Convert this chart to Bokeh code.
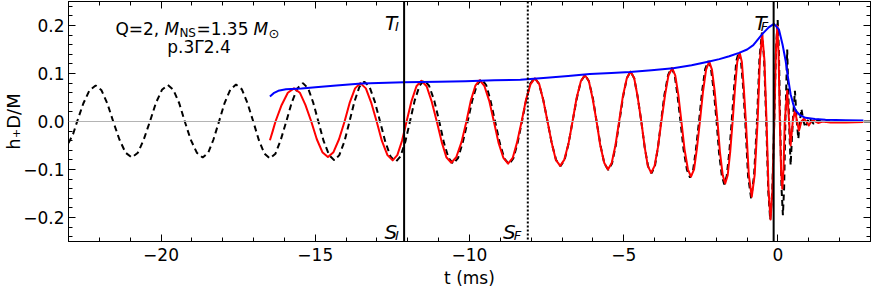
from bokeh.plotting import figure
from bokeh.models import Span, Label, LinearAxis, FixedTicker
from bokeh.embed import file_html
from bokeh.resources import INLINE

# ---------------- data ----------------
# black dashed waveform (t in ms, h+ D/M)
dashed_pts = [
    (-23.00, -0.045), (-22.85, -0.026), (-22.72, 0.0),
    (-22.52, 0.0375), (-22.32, 0.065), (-22.12, 0.075),
    (-21.93, 0.065), (-21.74, 0.0375), (-21.55, 0.0),
    (-21.35, -0.0375), (-21.15, -0.065), (-20.95, -0.075),
    (-20.75, -0.065), (-20.56, -0.0375), (-20.36, 0.0),
    (-20.17, 0.038), (-19.97, 0.066), (-19.78, 0.076),
    (-19.60, 0.066), (-19.41, 0.038), (-19.23, 0.0),
    (-19.04, -0.0375), (-18.84, -0.065), (-18.65, -0.075),
    (-18.47, -0.065), (-18.30, -0.0375), (-18.12, 0.0),
    (-17.94, 0.0385), (-17.75, 0.067), (-17.57, 0.077),
    (-17.38, 0.067), (-17.20, 0.0385), (-17.01, 0.0),
    (-16.83, -0.0385), (-16.65, -0.067), (-16.47, -0.077),
    (-16.29, -0.067), (-16.12, -0.0385), (-15.94, 0.0),
    (-15.76, 0.040), (-15.58, 0.069), (-15.40, 0.080),
    (-15.23, 0.069), (-15.07, 0.040), (-14.90, 0.0),
    (-14.73, -0.0405), (-14.55, -0.070), (-14.38, -0.081),
    (-14.22, -0.070), (-14.05, -0.0405), (-13.89, 0.0),
    (-13.73, 0.0415), (-13.57, 0.072), (-13.41, 0.083),
    (-13.24, 0.072), (-13.07, 0.0415), (-12.90, 0.0),
    (-12.73, -0.042), (-12.56, -0.073), (-12.39, -0.084),
    (-12.24, -0.073), (-12.08, -0.042), (-11.93, 0.0),
    (-11.78, 0.043), (-11.62, 0.0745), (-11.47, 0.086),
    (-11.31, 0.0745), (-11.14, 0.043), (-10.98, 0.0),
    (-10.83, -0.044), (-10.68, -0.076), (-10.53, -0.088),
    (-10.37, -0.076), (-10.22, -0.044), (-10.06, 0.0),
    (-9.91, 0.044), (-9.76, 0.076), (-9.61, 0.088),
    (-9.46, 0.076), (-9.32, 0.044), (-9.17, 0.0),
    (-9.02, -0.0445), (-8.87, -0.077), (-8.72, -0.089),
    (-8.58, -0.077), (-8.44, -0.0445), (-8.30, 0.0),
    (-8.16, 0.0455), (-8.03, 0.079), (-7.89, 0.091),
    (-7.75, 0.079), (-7.61, 0.0455), (-7.47, 0.0),
    (-7.33, -0.0465), (-7.19, -0.0805), (-7.05, -0.093),
    (-6.92, -0.0805), (-6.79, -0.0465), (-6.66, 0.0),
    (-6.52, 0.0485), (-6.39, 0.084), (-6.25, 0.097),
    (-6.13, 0.084), (-6.00, 0.0485), (-5.88, 0.0),
    (-5.75, -0.0505), (-5.63, -0.0875), (-5.50, -0.101),
    (-5.38, -0.0875), (-5.26, -0.0505), (-5.14, 0.0),
    (-5.02, 0.052), (-4.90, 0.090), (-4.78, 0.104),
    (-4.66, 0.090), (-4.55, 0.052), (-4.43, 0.0),
    (-4.32, -0.054), (-4.21, -0.0935), (-4.10, -0.108),
    (-3.99, -0.0935), (-3.89, -0.054), (-3.79, 0.0),
    (-3.68, 0.056), (-3.56, 0.097), (-3.45, 0.112),
    (-3.35, 0.097), (-3.26, 0.056), (-3.16, 0.0),
    (-3.06, -0.0585), (-2.95, -0.101), (-2.85, -0.117),
    (-2.75, -0.101), (-2.66, -0.0585), (-2.56, 0.0),
    (-2.46, 0.063), (-2.36, 0.109), (-2.26, 0.126),
    (-2.17, 0.109), (-2.08, 0.063), (-1.99, 0.0),
    (-1.91, -0.0655), (-1.82, -0.113), (-1.74, -0.131),
    (-1.66, -0.113), (-1.58, -0.0655), (-1.50, 0.0),
    (-1.42, 0.0725), (-1.35, 0.126), (-1.27, 0.145),
    (-1.20, 0.126), (-1.13, 0.0725), (-1.06, 0.0),
    (-0.97, -0.113), (-0.87, -0.160),
    (-0.775, -0.113), (-0.68, 0.0),
    (-0.60, 0.131), (-0.52, 0.185),
    (-0.45, 0.131), (-0.38, 0.0),
    (-0.315, -0.145), (-0.25, -0.205),
    (-0.185, -0.145), (-0.12, 0.0),
    (-0.065, 0.150), (-0.01, 0.212),
    (0.03, 0.150), (0.07, 0.0),
    (0.115, -0.138), (0.16, -0.195),
    (0.20, -0.138), (0.24, 0.0),
    (0.30, 0.150), (0.36, 0.0), (0.41, -0.091), (0.48, 0.0),
    (0.55, 0.064), (0.61, 0.0), (0.66, -0.036), (0.71, 0.0),
    (0.76, 0.026), (0.83, 0.0), (0.89, -0.012), (0.96, 0.0),
    (1.02, 0.008), (1.09, 0.0), (1.16, -0.005), (1.23, 0.0),
    (1.30, 0.004), (1.45, -0.003), (1.60, 0.002), (1.80, -0.001),
    (2.10, 0.001), (2.50, 0.0), (3.00, 0.0),
]

# red waveform
red_pts = [
    (-16.47, -0.039), (-16.38, -0.020), (-16.29, 0.0),
    (-16.09, 0.0345), (-15.89, 0.060), (-15.69, 0.069),
    (-15.50, 0.060), (-15.32, 0.0345), (-15.13, 0.0),
    (-14.95, -0.037), (-14.77, -0.064), (-14.59, -0.074),
    (-14.41, -0.064), (-14.23, -0.037), (-14.05, 0.0),
    (-13.88, 0.040), (-13.71, 0.069), (-13.54, 0.080),
    (-13.36, 0.069), (-13.19, 0.040), (-13.01, 0.0),
    (-12.84, -0.0405), (-12.66, -0.070), (-12.49, -0.081),
    (-12.34, -0.070), (-12.19, -0.0405), (-12.04, 0.0),
    (-11.88, 0.0425), (-11.72, 0.0735), (-11.56, 0.085),
    (-11.39, 0.0735), (-11.23, 0.0425), (-11.06, 0.0),
    (-10.90, -0.043), (-10.75, -0.0745), (-10.59, -0.086),
    (-10.43, -0.0745), (-10.26, -0.043), (-10.10, 0.0),
    (-9.96, 0.043), (-9.81, 0.0745), (-9.67, 0.086),
    (-9.52, 0.0745), (-9.36, 0.043), (-9.21, 0.0),
    (-9.06, -0.044), (-8.90, -0.076), (-8.75, -0.088),
    (-8.60, -0.076), (-8.46, -0.044), (-8.31, 0.0),
    (-8.17, 0.045), (-8.02, 0.078), (-7.88, 0.090),
    (-7.74, 0.078), (-7.61, 0.045), (-7.47, 0.0),
    (-7.33, -0.046), (-7.20, -0.080), (-7.06, -0.0925),
    (-6.93, -0.080), (-6.79, -0.046), (-6.66, 0.0),
    (-6.53, 0.0485), (-6.39, 0.084), (-6.26, 0.097),
    (-6.13, 0.084), (-6.01, 0.0485), (-5.88, 0.0),
    (-5.76, -0.050), (-5.63, -0.0865), (-5.51, -0.100),
    (-5.39, -0.0865), (-5.27, -0.050), (-5.15, 0.0),
    (-5.03, 0.052), (-4.90, 0.090), (-4.78, 0.104),
    (-4.66, 0.090), (-4.55, 0.052), (-4.43, 0.0),
    (-4.32, -0.0535), (-4.22, -0.0925), (-4.11, -0.107),
    (-4.00, -0.0925), (-3.89, -0.0535), (-3.78, 0.0),
    (-3.66, 0.0555), (-3.55, 0.096), (-3.43, 0.111),
    (-3.33, 0.096), (-3.23, 0.0555), (-3.13, 0.0),
    (-3.03, -0.0575), (-2.92, -0.0995), (-2.82, -0.115),
    (-2.72, -0.0995), (-2.63, -0.0575), (-2.53, 0.0),
    (-2.43, 0.0625), (-2.33, 0.108), (-2.23, 0.125),
    (-2.14, 0.108), (-2.05, 0.0625), (-1.96, 0.0),
    (-1.88, -0.0645), (-1.79, -0.112), (-1.71, -0.129),
    (-1.63, -0.112), (-1.55, -0.0645), (-1.47, 0.0),
    (-1.39, 0.0715), (-1.32, 0.124), (-1.24, 0.143),
    (-1.17, 0.124), (-1.11, 0.0715), (-1.04, 0.0),
    (-0.945, -0.111), (-0.85, -0.157),
    (-0.755, -0.111), (-0.66, 0.0),
    (-0.585, 0.129), (-0.51, 0.182),
    (-0.44, 0.129), (-0.37, 0.0),
    (-0.305, -0.144), (-0.24, -0.204),
    (-0.18, -0.144), (-0.12, 0.0),
    (-0.07, 0.141), (-0.02, 0.199),
    (0.02, 0.141), (0.06, 0.0),
    (0.10, -0.100), (0.14, -0.140), (0.18, -0.100), (0.22, 0.0),
    (0.30, 0.064), (0.36, 0.0), (0.41, -0.050), (0.48, 0.0),
    (0.55, 0.023), (0.62, 0.0), (0.68, -0.019), (0.76, 0.0),
    (0.84, 0.006), (0.92, 0.0), (1.00, -0.008), (1.08, 0.0),
    (1.15, 0.002), (1.30, -0.003), (1.45, 0.0), (1.70, -0.002),
    (2.20, -0.002), (2.77, -0.001),
]

# blue amplitude curve
blue_pts = [
    (-16.47, 0.052), (-16.35, 0.059), (-16.20, 0.064), (-15.95, 0.067),
    (-15.45, 0.069), (-14.90, 0.072), (-14.32, 0.075), (-13.50, 0.079),
    (-12.12, 0.082), (-11.00, 0.083), (-10.13, 0.084), (-9.20, 0.086),
    (-8.35, 0.087), (-7.50, 0.091), (-6.80, 0.095), (-6.10, 0.099),
    (-5.40, 0.101), (-4.80, 0.103), (-4.10, 0.107), (-3.40, 0.111),
    (-2.80, 0.117), (-2.23, 0.125), (-1.90, 0.130), (-1.58, 0.136),
    (-1.26, 0.143), (-1.00, 0.150), (-0.80, 0.159), (-0.51, 0.182),
    (-0.30, 0.196), (-0.13, 0.2035), (0.03, 0.192), (0.15, 0.160),
    (0.25, 0.126), (0.33, 0.090), (0.41, 0.057), (0.50, 0.035),
    (0.57, 0.023), (0.70, 0.014), (0.89, 0.0077), (1.20, 0.005),
    (1.54, 0.0035), (2.20, 0.0025), (2.77, 0.002),
]

dashed_t = [q[0] for q in dashed_pts]
dashed_h = [q[1] for q in dashed_pts]
red_t = [q[0] for q in red_pts]
red_h = [q[1] for q in red_pts]
blue_t = [q[0] for q in blue_pts]
blue_h = [q[1] for q in blue_pts]

# vertical markers (ms)
t_I = -12.12
s_F = -8.11
t_F = -0.14

x_major = [-20, -15, -10, -5, 0]
x_labels = {-20: "\u221220", -15: "\u221215", -10: "\u221210", -5: "\u22125", 0: "0"}
y_major = [-0.2, -0.1, 0.0, 0.1, 0.2]
y_labels = {-0.2: "\u22120.2", -0.1: "\u22120.1", 0.0: "0.0", 0.1: "0.1", 0.2: "0.2"}

FONT = "DejaVu Sans"

# ---------------- figure ----------------
p = figure(width=871, height=291, x_range=(-23, 3), y_range=(-0.25, 0.25),
           output_backend="svg", toolbar_location=None,
           min_border_left=68, min_border_right=1, min_border_top=1, min_border_bottom=50)
p.grid.visible = False
p.outline_line_color = "black"
p.outline_line_width = 1
p.background_fill_color = "white"
p.border_fill_color = "white"

xt = FixedTicker(ticks=x_major, minor_ticks=list(range(-23, 4)))
yt = FixedTicker(ticks=y_major, minor_ticks=[round(-0.24 + 0.02 * i, 2) for i in range(25)])


def style_axis(ax, show_labels):
    ax.axis_line_color = "black"
    ax.major_tick_line_color = "black"
    ax.minor_tick_line_color = "black"
    ax.major_tick_in = 7
    ax.major_tick_out = 0
    ax.minor_tick_in = 4
    ax.minor_tick_out = 0
    ax.major_label_text_font = FONT
    ax.major_label_text_color = "black"
    if show_labels:
        ax.major_label_text_font_size = "17px"
        ax.major_label_standoff = 6
    else:
        ax.major_label_text_font_size = "1px"
        ax.major_label_standoff = 0


xa = p.xaxis[0]
xa.ticker = xt
xa.major_label_overrides = x_labels
style_axis(xa, True)
xa.axis_label = "t (ms)"
xa.axis_label_text_font = FONT
xa.axis_label_text_font_size = "17px"
xa.axis_label_text_font_style = "normal"
xa.axis_label_text_color = "black"
xa.axis_label_standoff = 4

ya = p.yaxis[0]
ya.ticker = yt
ya.major_label_overrides = y_labels
style_axis(ya, True)
ya.major_label_standoff = 4
ya.axis_label = "h\u208aD/M"
ya.axis_label_text_font = FONT
ya.axis_label_text_font_size = "18px"
ya.axis_label_text_font_style = "normal"
ya.axis_label_text_color = "black"
ya.axis_label_standoff = -4

top = LinearAxis(ticker=xt, major_label_overrides={t: "" for t in x_major})
style_axis(top, False)
p.add_layout(top, "above")
right = LinearAxis(ticker=yt, major_label_overrides={t: "" for t in y_major})
style_axis(right, False)
p.add_layout(right, "right")

# zero line
p.add_layout(Span(location=0, dimension="width", line_color="#b4b4b4", line_width=1))

# curves
p.line(dashed_t, dashed_h, line_color="black", line_width=2, line_dash="6 4")
p.line(red_t, red_h, line_color="#ff0000", line_width=2, line_join="round")
p.line(blue_t, blue_h, line_color="#0000ff", line_width=2, line_join="round")

# vertical lines
p.add_layout(Span(location=t_I, dimension="height", line_color="black", line_width=2))
p.add_layout(Span(location=s_F, dimension="height", line_color="black", line_width=2, line_dash="2 2"))
p.add_layout(Span(location=t_F, dimension="height", line_color="black", line_width=2))


def lab(text, x, y, size, style="normal", align="left", xo=0, yo=0):
    p.add_layout(Label(x=x, y=y, text=text,
                       text_font=FONT, text_font_size=size, text_font_style=style,
                       text_align=align, text_baseline="alphabetic", text_color="black",
                       x_offset=xo, y_offset=yo))


# marker labels
lab("T", t_I, 0.2056, "20px", "italic", "right", xo=-7)
lab("I", t_I, 0.2056, "13px", "italic", "left", xo=-9, yo=-4)
lab("S", t_I, -0.231, "20px", "italic", "right", xo=-7)
lab("I", t_I, -0.231, "13px", "italic", "left", xo=-9, yo=-3)
lab("S", s_F, -0.231, "20px", "italic", "right", xo=-12)
lab("F", s_F, -0.231, "13px", "italic", "left", xo=-14, yo=-3)
lab("T", t_F, 0.2056, "20px", "italic", "right", xo=-7)
lab("F", t_F, 0.2056, "13px", "italic", "left", xo=-13, yo=-4)

# annotation
ax0 = -21.48
lab("Q=2,", ax0, 0.1925, "17px", xo=0)
lab("M", ax0, 0.1925, "17px", "italic", xo=49)
lab("NS", ax0, 0.1925, "12px", xo=64, yo=-4)
lab("=1.35", ax0, 0.1925, "17px", xo=81)
lab("M", ax0, 0.1925, "17px", "italic", xo=138)
lab("\u2299", ax0, 0.1925, "13px", xo=153, yo=-4)
lab("p.3\u03932.4", -18.77, 0.155, "17px", align="center")

open("out.html", "w").write(file_html(p, INLINE))
